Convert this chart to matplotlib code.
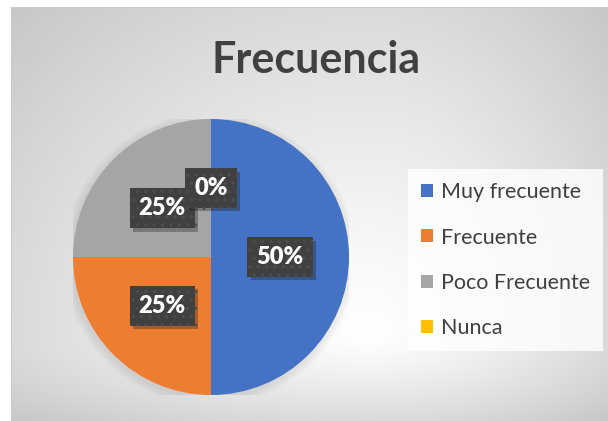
import matplotlib
matplotlib.use("Agg")
import matplotlib.pyplot as plt
import matplotlib.patheffects as pe
from matplotlib.patches import Circle
import numpy as np

# datos del grafico
categorias = ["Muy frecuente", "Frecuente", "Poco Frecuente", "Nunca"]
valores = [50, 25, 25, 0]
colores = ["#4472C4", "#ED7D31", "#A5A5A5", "#FFC000"]
titulo = "Frecuencia"

plt.rcParams["font.family"] = ["Lato", "DejaVu Sans"]
plt.rcParams["hatch.linewidth"] = 1.0

W, H = 608, 421
fig = plt.figure(figsize=(W / 100, H / 100), dpi=100)

# fondo con degradado radial (panel del grafico)
fondo = fig.add_axes([0, 0, 1, 1])
fondo.set_axis_off()
yy, xx = np.mgrid[0:H, 0:W].astype(float)
cx, cy = 370.0, 335.0
izq, der, arr, aba = 11.0, 608.0, 7.0, 421.0
dx = np.where(xx < cx, (xx - cx) / (cx - izq), (xx - cx) / (der - cx))
dy = np.where(yy < cy, (yy - cy) / (cy - arr), (yy - cy) / (aba - cy))
r = np.sqrt(dx ** 2 + dy ** 2) / np.sqrt(2)
gris = 1.0 - 0.22 * np.clip(r, 0, 1.2) ** 1.2
img = np.dstack([gris, gris, gris])
fuera = (xx < izq) | (yy < arr)
img[fuera] = 1.0
borde = ((np.abs(xx - izq) < 1) & (yy >= arr)) | ((np.abs(yy - arr) < 1) & (xx >= izq))
img[borde] = 0.80
fondo.imshow(img, extent=(0, W, H, 0), aspect="auto", interpolation="bilinear")
fondo.set_xlim(0, W)
fondo.set_ylim(H, 0)

# pastel
cxp, cyp, rad = 211, 257, 138
ax = fig.add_axes([(cxp - rad) / W, (H - cyp - rad) / H, 2 * rad / W, 2 * rad / H])
ax.set_axis_off()
# sombra difusa
for k in range(1, 6):
    ax.add_patch(Circle((-0.01, -0.015), 1 + 0.012 * k, color="black",
                        alpha=0.015, linewidth=0, zorder=0))
wedges, textos, autotextos = ax.pie(
    valores, colors=colores, startangle=90, counterclock=False,
    autopct="%1.0f%%", pctdistance=0.5, radius=1.0,
    wedgeprops=dict(linewidth=0, zorder=1),
    textprops=dict(color="white", fontsize=17, fontweight="heavy"))
ax.set_xlim(-1, 1)
ax.set_ylim(-1, 1)
ax.set_aspect("equal")

for t in autotextos:
    t.set_zorder(5)
    t.set_bbox(dict(boxstyle="square,pad=0.38", facecolor="#404040",
                    edgecolor="#4e4e4e", linewidth=0, hatch=".."))
    t.get_bbox_patch().set_path_effects(
        [pe.SimplePatchShadow(offset=(2.5, -2.5), alpha=0.3), pe.Normal()])

# titulo
fig.text(316 / W, 1 - 73 / H, titulo, ha="center", va="baseline",
         fontsize=31, fontweight="bold", color="#404040")

# leyenda
leg = fig.legend(wedges, categorias, loc="upper left",
                 bbox_to_anchor=(408 / W, 1 - 169 / H), fontsize=15.5,
                 frameon=True, fancybox=False, handlelength=0.55,
                 handleheight=0.55, handletextpad=0.35, labelspacing=1.17,
                 borderpad=0.62, borderaxespad=0)
leg.get_frame().set_facecolor((1, 1, 1, 0.35))
leg.get_frame().set_edgecolor("none")
for txt in leg.get_texts():
    txt.set_color("#404040")

fig.savefig("out.png", dpi=100)
